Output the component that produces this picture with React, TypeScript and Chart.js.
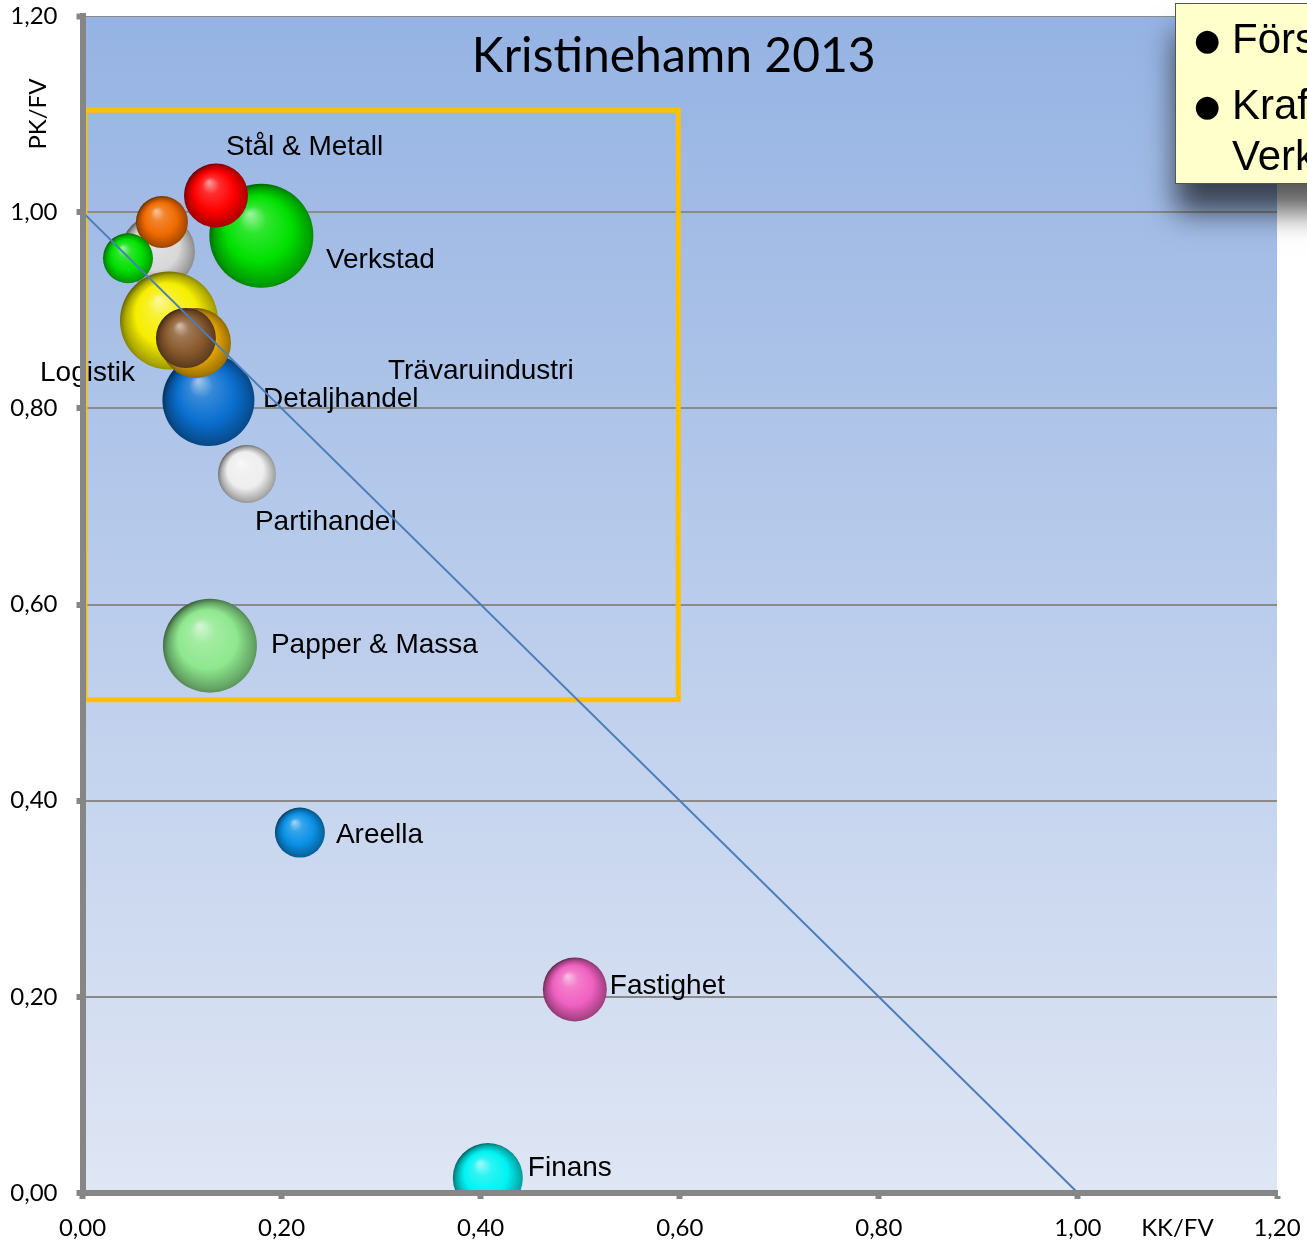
import React, { useEffect, useRef } from "react";
import { Chart, registerables } from "chart.js";

Chart.register(...registerables);

// ---- data ----
const categories = [
  "Verkstad",
  "Stål & Metall",
  "",
  "",
  "",
  "Logistik",
  "Detaljhandel",
  "Trävaruindustri",
  "",
  "Partihandel",
  "Papper & Massa",
  "Areella",
  "Fastighet",
  "Finans",
];
const kkfv = [0.1797, 0.1341, 0.0758, 0.0798, 0.0457, 0.0869, 0.1265, 0.114, 0.1039, 0.1652, 0.128, 0.2184, 0.4946, 0.4072];
const pkfv = [0.976, 1.017, 0.96, 0.99, 0.953, 0.8896, 0.8085, 0.8666, 0.8717, 0.733, 0.558, 0.3675, 0.2075, 0.0153];
const bubbleRadius = [52, 32, 37, 26, 25, 49, 46, 35, 30, 29, 47, 25, 32, 35];
const bubbleColors = [
  "#00e000", "#ff0000", "#d8d8d8", "#f06a00", "#00e000", "#f6ee00", "#0a6fd0",
  "#e8a800", "#8a5a2e", "#eeeeee", "#8ee88e", "#0a90e6", "#f060c0", "#00f2f2",
];
const diagonalX = [0, 1];
const diagonalY = [1, 0];
const boxX = [0.0025, 0.5985, 0.5985, 0.0025, 0.0025];
const boxY = [0.503, 0.503, 1.104, 1.104, 0.503];
const tickValues = [0, 0.2, 0.4, 0.6, 0.8, 1.0, 1.2];
const titleText = "Kristinehamn 2013";
const xTitle = "KK/FV";
const yTitle = "PK/FV";
const calloutLines = [
  { bullet: true, text: "Förs" },
  { bullet: true, text: "Kraf" },
  { bullet: false, text: "Verk" },
];

// ---- layout (label offsets from bubble centre, px) ----
const labelOffsets: [number, number][] = [
  [64.5, 24.5], [10, -48.5], [0, 0], [0, 0], [0, 0], [-129, 52.5], [54.5, -1],
  [192, 28], [0, 0], [8, 48], [61, -0.5], [36, 2.5], [35, -3.5], [40, -10],
];

const fmt = (v: number) => v.toFixed(2).replace(".", ",");

function shade(hex: string, amt: number) {
  const n = parseInt(hex.slice(1), 16);
  let r = (n >> 16) & 255, g = (n >> 8) & 255, b = n & 255;
  if (amt >= 0) {
    r = r + (255 - r) * amt; g = g + (255 - g) * amt; b = b + (255 - b) * amt;
  } else {
    r = r * (1 + amt); g = g * (1 + amt); b = b * (1 + amt);
  }
  return `rgb(${Math.round(r)},${Math.round(g)},${Math.round(b)})`;
}

const LABEL_FONT = "28px 'Liberation Sans', Arial, sans-serif";
const CAL_FONT = "Lato, 'Open Sans', sans-serif";

const decorPlugin = {
  id: "decor",
  beforeDraw(chart: any) {
    const { ctx, chartArea: a } = chart;
    ctx.save();
    const g = ctx.createLinearGradient(0, a.top, 0, a.bottom);
    g.addColorStop(0, "#95b3e3");
    g.addColorStop(1, "#dfe6f4");
    ctx.fillStyle = g;
    ctx.fillRect(a.left, a.top, a.right - a.left, a.bottom - a.top);
    ctx.restore();
  },
  beforeDatasetsDraw(chart: any) {
    const { ctx } = chart;
    const xs = chart.scales.x, ys = chart.scales.y;
    ctx.save();
    ctx.font = LABEL_FONT;
    ctx.fillStyle = "#000";
    ctx.textAlign = "left";
    ctx.textBaseline = "middle";
    categories.forEach((name, i) => {
      if (!name) return;
      const cx = xs.getPixelForValue(kkfv[i]);
      const cy = ys.getPixelForValue(pkfv[i]);
      ctx.fillText(name, cx + labelOffsets[i][0], cy + labelOffsets[i][1]);
    });
    ctx.restore();
  },
  afterDraw(chart: any) {
    const { ctx, chartArea: a } = chart;
    const xs = chart.scales.x, ys = chart.scales.y;
    ctx.save();
    // title
    ctx.fillStyle = "#000";
    ctx.font = `48px ${CAL_FONT}`;
    ctx.textAlign = "center";
    ctx.textBaseline = "middle";
    ctx.fillText(titleText, (a.left + a.right) / 2 - 6, a.top + 41);
    // axis titles
    ctx.font = `24px ${CAL_FONT}`;
    ctx.fillText(xTitle, xs.getPixelForValue(1.1), a.bottom + 35);
    ctx.save();
    ctx.translate(38, ys.getPixelForValue(1.1));
    ctx.rotate(-Math.PI / 2);
    ctx.fillText(yTitle, 0, 0);
    ctx.restore();
    // callout
    const bx = 1175.5, by = 3.5, bw = 200, bh = 180;
    ctx.save();
    ctx.shadowColor = "rgba(0,0,0,0.65)";
    ctx.shadowBlur = 28;
    ctx.shadowOffsetY = 28;
    ctx.shadowOffsetX = 0;
    ctx.fillStyle = "#ffffcc";
    ctx.fillRect(bx, by, bw, bh);
    ctx.restore();
    ctx.fillStyle = "#ffffcc";
    ctx.fillRect(bx, by, bw, bh);
    ctx.strokeStyle = "#555";
    ctx.lineWidth = 1;
    ctx.strokeRect(bx, by, bw, bh);
    ctx.fillStyle = "#000";
    ctx.textAlign = "left";
    ctx.textBaseline = "middle";
    const lineY = [41, 107, 158];
    calloutLines.forEach((ln, i) => {
      if (ln.bullet) {
        ctx.font = "30px 'DejaVu Sans', sans-serif";
        ctx.fillText("●", 1194, lineY[i] + 1);
      }
      ctx.font = "42px 'Liberation Sans', Arial, sans-serif";
      ctx.fillText(ln.text, 1232, lineY[i]);
    });
    ctx.restore();
  },
};

const zeroPad = (s: any) => {
  s.paddingTop = 0;
  s.paddingBottom = 0;
  s.paddingLeft = 0;
  s.paddingRight = 0;
};

export default function App() {
  const ref = useRef<HTMLCanvasElement>(null);
  useEffect(() => {
    const bubbleData = kkfv.map((x, i) => ({ x, y: pkfv[i], r: bubbleRadius[i] }));
    const chart = new Chart(ref.current as HTMLCanvasElement, {
      type: "bubble",
      data: {
        datasets: [
          {
            type: "line",
            data: diagonalX.map((x, i) => ({ x, y: diagonalY[i] })),
            borderColor: "#4a7ebb",
            borderWidth: 2,
            pointRadius: 0,
            fill: false,
            order: 0,
          } as any,
          {
            type: "line",
            data: boxX.map((x, i) => ({ x, y: boxY[i] })),
            borderColor: "#ffc000",
            borderWidth: 5,
            pointRadius: 0,
            fill: false,
            order: 0,
            borderJoinStyle: "miter",
          } as any,
          {
            type: "bubble",
            data: bubbleData,
            borderWidth: 0,
            order: 1,
            clip: 0,
            backgroundColor: (c: any) => {
              const base = bubbleColors[c.dataIndex] || "#888";
              const raw = c.raw;
              const chart = c.chart;
              if (!raw || !chart.chartArea) return base;
              const cx = chart.scales.x.getPixelForValue(raw.x);
              const cy = chart.scales.y.getPixelForValue(raw.y);
              const r = raw.r;
              const g = chart.ctx.createRadialGradient(
                cx - 0.22 * r, cy - 0.42 * r, r * 0.02,
                cx + 0.08 * r, cy + 0.1 * r, r * 1.12
              );
              g.addColorStop(0, shade(base, 0.6));
              g.addColorStop(0.22, shade(base, 0.18));
              g.addColorStop(0.55, base);
              g.addColorStop(0.82, shade(base, -0.3));
              g.addColorStop(1, shade(base, -0.6));
              return g;
            },
          } as any,
        ],
      },
      options: {
        responsive: false,
        animation: false,
        events: [],
        layout: { autoPadding: false, padding: { top: 16, right: 30, left: 0, bottom: 0 } },
        plugins: { legend: { display: false }, tooltip: { enabled: false } },
        scales: {
          x: {
            type: "linear",
            min: 0,
            max: 1.2,
            afterBuildTicks: (s: any) => {
              s.ticks = tickValues.map((v) => ({ value: v }));
            },
            afterFit: (s: any) => {
              s.height = 53;
              zeroPad(s);
            },
            ticks: {
              callback: (v: any) => fmt(Number(v)),
              font: { family: "Lato", size: 24 },
              color: "#000",
              padding: 15,
              maxRotation: 0,
              autoSkip: false,
            },
            grid: {
              drawOnChartArea: false,
              drawTicks: true,
              tickLength: 6,
              tickWidth: 6,
              tickColor: "#868686",
            },
            border: { display: true, color: "#868686", width: 6, z: 1 },
          },
          y: {
            type: "linear",
            min: 0,
            max: 1.2,
            afterBuildTicks: (s: any) => {
              s.ticks = tickValues.map((v) => ({ value: v }));
            },
            afterFit: (s: any) => {
              s.width = 82.5;
              zeroPad(s);
            },
            ticks: {
              callback: (v: any) => fmt(Number(v)),
              font: { family: "Lato", size: 24 },
              color: "#000",
              padding: 19,
              autoSkip: false,
            },
            grid: {
              color: "#8a8a8a",
              lineWidth: (c: any) => (c.tick && c.tick.value > 1.1 ? 1 : 2),
              drawTicks: true,
              tickLength: 6,
              tickWidth: 6,
              tickColor: "#868686",
            },
            border: { display: true, color: "#868686", width: 6, z: 1 },
          },
        },
      },
      plugins: [decorPlugin],
    } as any);
    return () => chart.destroy();
  }, []);
  return (
    <div style={{ position: "absolute", left: 0, top: 0, width: 1307, height: 1246, background: "#fff" }}>
      <canvas ref={ref} width={1307} height={1246} style={{ display: "block", width: 1307, height: 1246 }} />
    </div>
  );
}
